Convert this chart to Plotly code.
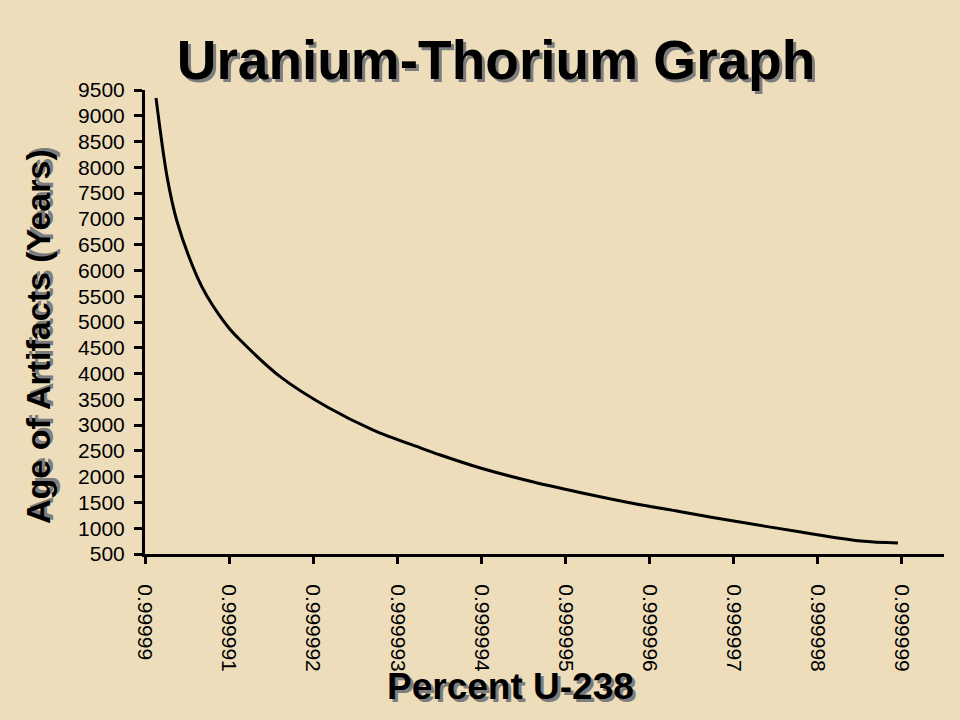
import plotly.graph_objects as go

# Data
percent_u238 = [0.9999901310, 0.9999902620, 0.9999903810, 0.9999906190, 0.9999907380,
                0.9999909880, 0.9999911310, 0.9999916070, 0.9999921670, 0.9999927140,
                0.9999932740, 0.9999935120, 0.9999939880, 0.9999946190, 0.9999952980,
                0.9999958100, 0.9999963690, 0.9999969290, 0.9999977980, 0.9999985120,
                0.9999989520]
age_years = [9344, 7820, 6950, 5880, 5500,
             4903, 4650, 3940, 3351, 2905,
             2560, 2420, 2168, 1896, 1650,
             1480, 1320, 1159, 927, 752,
             713]

x_tick_vals = [0.99999, 0.999991, 0.999992, 0.999993, 0.999994,
               0.999995, 0.999996, 0.999997, 0.999998, 0.999999]
x_tick_text = ["0.99999", "0.999991", "0.999992", "0.999993", "0.999994",
               "0.999995", "0.999996", "0.999997", "0.999998", "0.999999"]
y_tick_vals = list(range(500, 9501, 500))

title_text = "Uranium-Thorium Graph"
x_title = "Percent U-238"
y_title = "Age of Artifacts (Years)"

BG = "#EDDDBB"
# plot area wanted at screen x 145..944, y 90..554 (page body margin removed below)
L, T, R, B = 145, 90, 960 - 944, 720 - 554
PW, PH = 944 - 145, 554 - 90


def px(sx):
    return (sx - 145) / PW


def py(sy):
    return (554 - sy) / PH


fig = go.Figure()
fig.add_trace(go.Scatter(
    x=percent_u238, y=age_years, mode="lines",
    line=dict(color="black", width=3, shape="spline", smoothing=0.9),
    hoverinfo="skip", showlegend=False,
))

shadow = "3px 3px 0px #7d7d7d"
fig.update_layout(
    width=960, height=720,
    margin=dict(l=L, r=R, t=T, b=B),
    paper_bgcolor=BG,
    plot_bgcolor="rgba(0,0,0,0)",
    font=dict(family="Liberation Sans, Arial, sans-serif", color="black"),
    title=dict(
        text="<b>" + title_text + "</b>",
        x=496 / 960, xanchor="center", xref="container",
        y=1 - 60 / 720, yanchor="middle", yref="container",
        font=dict(family="Liberation Sans, Arial, sans-serif",
                  size=55, color="black", shadow=shadow),
    ),
    xaxis=dict(
        range=[0.99999, 0.9999995],
        tickmode="array", tickvals=x_tick_vals, ticktext=x_tick_text,
        tickangle=90, ticks="outside", ticklen=7, tickwidth=3, tickcolor="black",
        showline=True, linewidth=3, linecolor="black",
        showgrid=False, zeroline=False,
        tickfont=dict(size=21, color="black"),
        ticklabelstandoff=16,
    ),
    yaxis=dict(
        range=[500, 9500],
        tickmode="array", tickvals=y_tick_vals,
        ticks="outside", ticklen=8, tickwidth=3, tickcolor="black",
        showline=True, linewidth=3, linecolor="black",
        showgrid=False, zeroline=False,
        tickfont=dict(size=21, color="black"),
        ticklabelstandoff=5,
    ),
    annotations=[
        dict(text="<b>" + x_title + "</b>", xref="paper", yref="paper",
             x=px(510), y=py(686), xanchor="center", yanchor="middle",
             showarrow=False, font=dict(size=37, color="black", shadow=shadow)),
        dict(text="<b>" + y_title + "</b>", xref="paper", yref="paper",
             x=px(38), y=py(337), xanchor="center", yanchor="middle",
             textangle=-90, showarrow=False,
             font=dict(size=34, color="black", shadow=shadow)),
    ],
)

fig.write_html(
    "out.html",
    config={"displayModeBar": False},
    post_script="document.body.style.margin='0';document.body.style.background='" + BG + "';",
)
